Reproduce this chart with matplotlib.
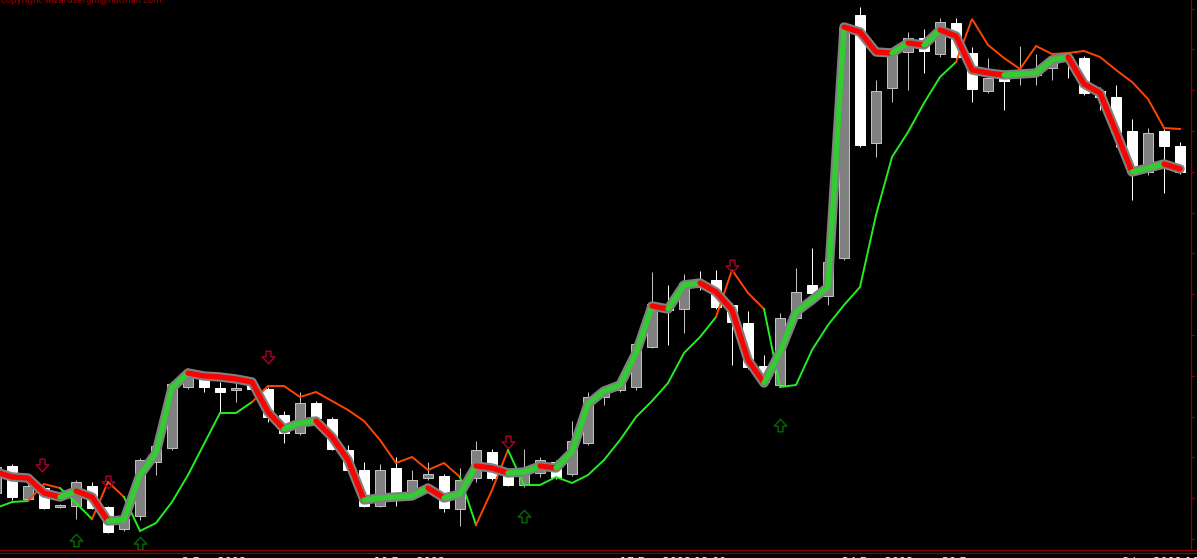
import numpy as np
import matplotlib
matplotlib.use("Agg")
import matplotlib.pyplot as plt
from matplotlib.path import Path

# bars, index -1 is the one cut by the left edge
bar_idx = np.arange(-1, 74)

open_ = [65, 92, 59, 70, 51, 52, 72, 51, 29, 42,
         96, 110, 171, 180, 170, 168, 173, 169, 143, 125,
         155, 139, 108, 88, 52, 90, 61, 80, 82, 49,
         80, 106, 83, 73, 85, 96, 84, 115, 161, 168,
         171, 211, 253, 249, 276, 278, 253, 235, 192, 173,
         240, 273, 262, 300, 543, 415, 470, 506, 520, 504,
         535, 505, 467, 485, 482, 483, 490, 501, 500, 467,
         461, 427, 386, 427, 412]
high = [96, 94, 74, 72, 54, 78, 76, 52, 41, 100,
        115, 176, 190, 185, 176, 175, 175, 171, 147, 166,
        157, 141, 113, 96, 94, 101, 88, 96, 84, 90,
        117, 109, 85, 109, 101, 98, 137, 166, 170, 178,
        216, 286, 273, 284, 287, 288, 255, 247, 203, 245,
        290, 310, 323, 533, 551, 478, 506, 526, 529, 540,
        540, 511, 500, 487, 512, 504, 502, 503, 502, 471,
        473, 439, 430, 429, 416]
low = [61, 58, 57, 49, 50, 39, 49, 25, 27, 38,
       83, 108, 169, 166, 145, 156, 168, 136, 115, 123,
       138, 108, 86, 51, 51, 52, 59, 78, 46, 32,
       76, 78, 72, 71, 81, 79, 82, 113, 153, 166,
       168, 210, 213, 225, 268, 249, 193, 189, 173, 171,
       238, 262, 253, 298, 411, 401, 456, 468, 485, 501,
       499, 456, 465, 448, 473, 473, 478, 480, 463, 448,
       411, 358, 383, 365, 384]
close = [91, 61, 72, 50, 53, 76, 50, 26, 39, 98,
         112, 174, 186, 171, 166, 170, 169, 141, 125, 155,
         140, 109, 88, 52, 88, 61, 78, 84, 50, 78,
         108, 80, 73, 85, 98, 81, 117, 161, 168, 175,
         214, 254, 248, 275, 271, 251, 236, 191, 176, 240,
         266, 265, 296, 530, 413, 467, 503, 520, 507, 536,
         501, 469, 480, 477, 488, 486, 500, 498, 465, 461,
         426, 386, 425, 412, 386]

# thick trend line (green rising / red falling)
trend_ma = [86, 81, 80, 65, 61, 67, 61, 37, 38, 83,
            105, 170, 185, 182, 181, 179, 176, 146, 129, 135,
            137, 121, 98, 58, 60, 61, 62, 70, 60, 64,
            92, 90, 85, 86, 92, 90, 106, 154, 167, 173,
            205, 252, 249, 273, 275, 266, 248, 198, 175, 206,
            246, 258, 271, 531, 526, 506, 505, 515, 513, 528,
            522, 488, 485, 483, 484, 485, 498, 501, 474, 465,
            426, 386, 390, 394, 389]

# thin stop line, side 1 = above price (orange), 0 = below (green)
stop_line = [50, 56, 57, 74, 70, 55, 39, 76, 61, 27,
             35, 56, 83, 114, 145, 145, 156, 172, 172, 161,
             166, 157, 148, 137, 118, 95, 101, 88, 95, 81,
             33, 68, 108, 73, 73, 81, 75, 83, 98, 118,
             141, 157, 175, 205, 221, 241, 288, 265, 249, 171,
             173, 208, 233, 253, 271, 343, 401, 426, 455, 481,
             496, 539, 513, 500, 489, 512, 504, 505, 507, 501,
             488, 476, 459, 430, 429]
stop_side = [0, 0, 0, 1, 1, 0, 0, 1, 1, 0,
             0, 0, 0, 0, 0, 0, 0, 1, 1, 1,
             1, 1, 1, 1, 1, 1, 1, 1, 1, 1,
             0, 1, 1, 0, 0, 0, 0, 0, 0, 0,
             0, 0, 0, 0, 0, 0, 1, 1, 1, 0,
             0, 0, 0, 0, 0, 0, 0, 0, 0, 0,
             0, 1, 1, 1, 1, 1, 1, 1, 1, 1,
             1, 1, 1, 1, 1]

sell_bars = [1.9, 6, 16, 31, 45]
sell_levels = [93, 76, 201, 116, 292]
buy_bars = [4, 8, 32, 48]
buy_levels = [18, 15, 42, 133]

price_ticks = [19, 60, 101, 141, 182, 223, 264, 305, 345, 386, 427, 468, 509, 549]
time_label_bars = [10.6, 22.6, 38.0, 51.9, 58.1, 69.4]
time_labels = ["2 Dec 2008", "10 Dec 2008", "17 Dec 2008 12:00", "24 Dec 2008",
               "30 Dec", "8 Jan 2009 16:00"]

fig = plt.figure(figsize=(11.97, 5.58), dpi=100)
fig.patch.set_facecolor("black")
ax = fig.add_axes([0, 0, 1, 1])
ax.set_facecolor("black")
ax.set_xlim(-0.75, 74.06)
ax.set_ylim(0, 558)
ax.axis("off")

px = 0.72  # one pixel in points

# candles
o = np.array(open_)
c = np.array(close)
up = c >= o
for bull, face, edge in [(True, "#808080", "#c0c0c0"), (False, "white", "white")]:
    m = up == bull
    ax.vlines(bar_idx[m], np.array(low)[m], np.array(high)[m], color=edge, lw=px, zorder=1)
    bot = np.minimum(o, c)[m]
    hgt = np.maximum(np.abs(c - o)[m], 1)
    ax.bar(bar_idx[m], hgt, bottom=bot, width=0.64, color=face,
           edgecolor=edge, linewidth=px, zorder=2)

# thin stop line, drawn in runs of one colour
side_col = {0: "#22ee22", 1: "#ff4500"}
i = 1
while i < len(bar_idx):
    j = i
    while j + 1 < len(bar_idx) and stop_side[j + 1] == stop_side[i]:
        j += 1
    ax.plot(bar_idx[i - 1:j + 1], stop_line[i - 1:j + 1], color=side_col[stop_side[i]],
            lw=1.4, solid_joinstyle="miter", zorder=3)
    i = j + 1

# thick trend line: grey casing then coloured core
ax.plot(bar_idx, trend_ma, color="#808080", lw=6.8, solid_capstyle="round",
        solid_joinstyle="round", zorder=4)
ma = np.array(trend_ma)
rising = np.r_[False, ma[1:] > ma[:-1]]
i = 1
while i < len(bar_idx):
    j = i
    while j + 1 < len(bar_idx) and rising[j + 1] == rising[i]:
        j += 1
    ax.plot(bar_idx[i - 1:j + 1], ma[i - 1:j + 1], color="#33cc33" if rising[i] else "#ff0000",
            lw=3.8, solid_capstyle="round", solid_joinstyle="round", zorder=5)
    i = j + 1

# hollow signal arrows
down_arrow = Path([(-0.2, 0.5), (0.2, 0.5), (0.2, 0.05), (0.5, 0.05), (0.0, -0.5),
                   (-0.5, 0.05), (-0.2, 0.05), (-0.2, 0.5)], closed=True)
up_arrow = Path([(x, -y) for x, y in down_arrow.vertices], closed=True)
ax.plot(sell_bars, sell_levels, ls="none", marker=down_arrow, markersize=9,
        markerfacecolor="none", markeredgecolor="#a0002a", markeredgewidth=1.1, zorder=6)
ax.plot(buy_bars, buy_levels, ls="none", marker=up_arrow, markersize=9,
        markerfacecolor="none", markeredgecolor="#006400", markeredgewidth=1.1, zorder=6)

# frame: price scale and time scale separators
ax.axhline(8, color="#8b0000", lw=1.2 * px, zorder=7)
ax.axhline(5.5, color="#8b0000", lw=1.2 * px, zorder=7)
ax.plot([73.69, 73.69], [8, 558], color="#8b0000", lw=1.2 * px, zorder=7)
for t in price_ticks:
    ax.plot([73.69, 73.9], [t, t], color="#8b0000", lw=px, zorder=7)
for b, lab in zip(time_label_bars, time_labels):
    ax.text(b, 0.8, lab, color="white", fontsize=8, ha="left", va="top", zorder=7)

ax.text(0.001, 0.995, "copyright wizardserghl@hotmail.com", color="#a00000",
        fontsize=6.2, ha="left", va="baseline", transform=ax.transAxes)

fig.savefig("out.png", dpi=100, facecolor="black")
